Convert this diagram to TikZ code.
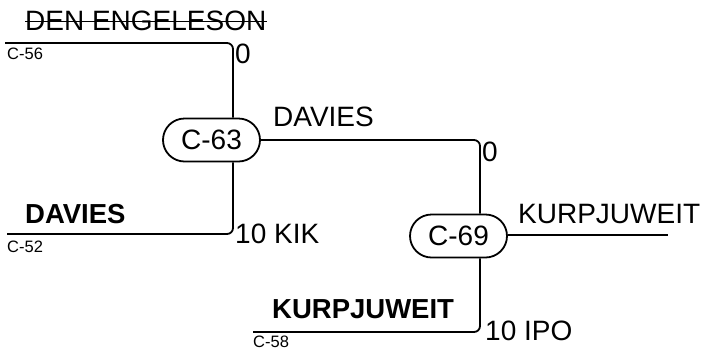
\documentclass[tikz,border=0pt]{standalone}
\usepackage{fontspec}
\setmainfont{Liberation Sans}
\usepackage{tikz}
\usetikzlibrary{positioning, shapes.misc}

\tikzset{
  match/.style={draw, line width=1.8bp, rounded rectangle, minimum width=97bp, minimum height=43bp, inner sep=0pt, font=\fontsize{28bp}{30bp}\selectfont},
  player/.style={inner sep=0pt, anchor=base west, font=\fontsize{28bp}{30bp}\selectfont},
  winner/.style={player, font=\fontsize{27.5bp}{30bp}\selectfont\bfseries},
  seed/.style={inner sep=0pt, anchor=base west, font=\fontsize{16.5bp}{18bp}\selectfont},
  score/.style={player},
  bracket/.style={line width=1.8bp, rounded corners=6bp}
}

\begin{document}
\begin{tikzpicture}[x=1bp, y=-1bp]
\useasboundingbox (0,0) rectangle (704,353);
\node[match] (m63) at (211.5,140) {C-63};
\node[match] (m69) at (458.5,236) {C-69};
\coordinate (s56) at (5,43);
\coordinate (k56) at (233,43);
\coordinate (s52) at (7,234);
\coordinate (k52) at (233,234);
\coordinate (k63) at (480,140);
\coordinate (e69) at (668,235);
\coordinate (s58) at (253,332);
\coordinate (k58) at (480,332);
\draw[bracket] (s56) -- (k56) -- (k56 |- m63.north);
\draw[bracket] (s52) -- (k52) -- (k52 |- m63.south);
\draw[bracket] (m63.east) -- (k63) -- (k63 |- m69.north);
\draw[bracket] (m69.east |- e69) -- (e69);
\draw[bracket] (s58) -- (k58) -- (k58 |- m69.south);
% players and seeds
\node[player] (den) at (25,30) {DEN ENGELESON};
\draw[line width=1.4bp] ([yshift=8.5bp]den.base west) -- ([yshift=8.5bp]den.base east);
\node[seed] (c56) at (7,59) {C-56};
\node[winner] (dav) at (25,223) {DAVIES};
\node[seed] (c52) at (7,252) {C-52};
\node[player] (dav2) at (273,126) {DAVIES};
\node[winner] (kur) at (272,318) {KURPJUWEIT};
\node[seed] (c58) at (253,347) {C-58};
\node[player] (kur2) at (518,223) {KURPJUWEIT};
% scores
\node[score] (r56) at (235,63) {0};
\node[score] (r52) at (235,243) {10 KIK};
\node[score] (r63) at (482,161) {0};
\node[score] (r58) at (485,340) {10 IPO};
\end{tikzpicture}
\end{document}
